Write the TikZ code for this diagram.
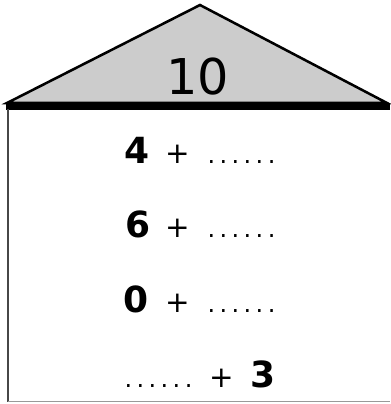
\documentclass[tikz,border=0pt]{standalone}
\usepackage{fontspec}
\setmainfont{DejaVu Sans}
\newcommand\blankdots{.\kern3.3pt.\kern3.3pt.\kern3.3pt.\kern3.3pt.\kern3.3pt.}
\begin{document}
\begin{tikzpicture}[x=0.75pt,y=-0.75pt,
  roof/.style={draw=black,line width=1.9pt,fill=black!20,line join=miter},
  band/.style={draw=black,line width=5pt},
  wall/.style={draw=black!72,line width=1.9pt},
  floor/.style={draw=black!40,line width=1.1pt},
  num/.style={anchor=base,inner sep=0pt,font=\fontsize{27}{30}\selectfont\bfseries},
  plus/.style={anchor=base,inner sep=0pt,font=\fontsize{22}{26}\selectfont},
  dotsn/.style={anchor=base,inner sep=0pt,font=\fontsize{18}{22}\selectfont}]
\useasboundingbox (0,0) rectangle (390,404);
\coordinate (bl) at (7,103);
\coordinate (br) at (387,103);
\coordinate (apex) at (200,5);
\path[roof] (bl) -- (apex) -- (br) -- cycle;
\node[inner sep=0pt,font=\fontsize{37}{40}\selectfont] (ten) at (198,77) {10};
\coordinate (bandl) at (6,107);
\coordinate (bandr) at (390,107);
\draw[band] (bandl) -- (bandr);
\coordinate (wtop) at (8,109);
\coordinate (wbot) at (8,401.5);
\coordinate (fr) at (390,401.5);
\draw[wall] (wtop) -- (wbot);
\draw[floor] (wbot) -- (fr);
% row 1
\node[num] (n1) at (137.5,163) {4};
\node[plus] (p1) at (178,163) {+};
\node[dotsn] (d1) at (241.5,163) {\blankdots};
% row 2
\node[num] (n2) at (138.5,237) {6};
\node[plus] (p2) at (178,237) {+};
\node[dotsn] (d2) at (241.5,237) {\blankdots};
% row 3
\node[num] (n3) at (136.5,312) {0};
\node[plus] (p3) at (178,312) {+};
\node[dotsn] (d3) at (241.5,312) {\blankdots};
% row 4
\node[dotsn] (d4) at (158.5,387) {\blankdots};
\node[plus] (p4) at (222,387) {+};
\node[num] (n4) at (263.5,387) {3};
\end{tikzpicture}
\end{document}
